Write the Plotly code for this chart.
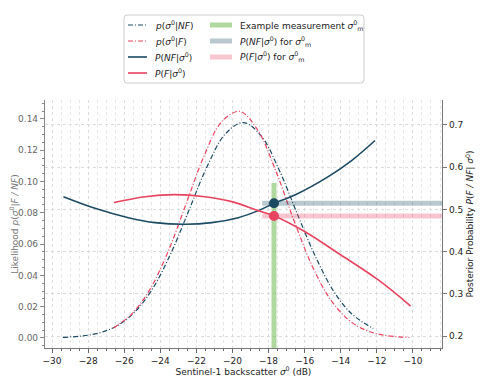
import plotly.graph_objects as go

# Likelihood p(sigma0|NF)
nf_x = [-29.4, -28.4, -27.4, -26.4, -25.4, -24.4, -23.4, -22.4, -21.4, -20.4, -19.4,
        -18.4, -17.4, -16.4, -15.4, -14.4, -13.4, -12.2]
nf_lik = [0.0004, 0.0012, 0.0032, 0.0078, 0.0168, 0.032, 0.0545, 0.082, 0.1098, 0.1304, 0.1377,
          0.129, 0.107, 0.079, 0.052, 0.030, 0.0155, 0.006]
# Likelihood p(sigma0|F)
f_x = [-26.6, -25.6, -24.6, -23.6, -22.6, -21.6, -20.6, -19.6, -18.6, -17.6, -16.6,
       -15.6, -14.6, -13.6, -12.6, -11.6, -10.2]
f_lik = [0.0065, 0.0151, 0.0306, 0.0544, 0.0848, 0.1156, 0.1382, 0.1448, 0.1328, 0.1068, 0.0753,
         0.0464, 0.0251, 0.0119, 0.0049, 0.0018, 0.0003]
# Posterior P(NF|sigma0)
pnf_x = [-29.37, -27.62, -25.77, -24.29, -22.63, -21.15, -19.68, -18.57, -17.68, -16.54, -14.69, -13.40, -12.10]
pnf = [0.530, 0.5026, 0.4803, 0.4685, 0.4647, 0.4685, 0.4803, 0.497, 0.5145, 0.534, 0.5775, 0.6155, 0.663]
# Posterior P(F|sigma0)
pf_x = [-26.57, -24.85, -23.19, -21.52, -20.04, -18.57, -17.68, -15.98, -14.14, -11.92, -10.13]
pf = [0.516, 0.530, 0.5349, 0.530, 0.5183, 0.497, 0.4844, 0.447, 0.396, 0.3327, 0.271]
# Example measurement
sigma_m = -17.7
meas_lik_top = 0.099
pnf_m = 0.5145
pf_m = 0.4844
band_x = [-18.35, -8.0]

# Legend labels (two columns)
legend_col1 = ["<i>p</i>(<i>σ</i><sup>0</sup>|<i>NF</i>)",
               "<i>p</i>(<i>σ</i><sup>0</sup>|<i>F</i>)",
               "<i>P</i>(<i>NF</i>|<i>σ</i><sup>0</sup>)",
               "<i>P</i>(<i>F</i>|<i>σ</i><sup>0</sup>)"]
legend_col2 = ["Example measurement <i>σ</i><sup>0</sup><sub>m</sub>",
               "<i>P</i>(<i>NF</i>|<i>σ</i><sup>0</sup>) for <i>σ</i><sup>0</sup><sub>m</sub>",
               "<i>P</i>(<i>F</i>|<i>σ</i><sup>0</sup>) for <i>σ</i><sup>0</sup><sub>m</sub>"]

BLUE = "#1b4a62"
PINK = "#e8435f"
GREEN_A = "rgba(125,190,95,0.6)"
BLUE_A = "rgba(27,74,98,0.3)"
PINK_A = "rgba(232,67,95,0.3)"
FONT = "DejaVu Sans"
DASHDOT = "5px,2px,1px,2px"

col1_styles = [dict(color=BLUE, width=1.2, dash=DASHDOT), dict(color=PINK, width=1.2, dash=DASHDOT),
               dict(color=BLUE, width=1.6), dict(color=PINK, width=1.6)]
col2_styles = [dict(color=GREEN_A, width=5), dict(color=BLUE_A, width=5), dict(color=PINK_A, width=5)]

fig = go.Figure()

fig.add_trace(go.Scatter(x=nf_x, y=nf_lik, mode="lines", line=dict(color=BLUE, width=1.2, dash=DASHDOT, shape="spline"),
                         name=legend_col1[0]))
fig.add_trace(go.Scatter(x=f_x, y=f_lik, mode="lines", line=dict(color=PINK, width=1.2, dash=DASHDOT, shape="spline"),
                         name=legend_col1[1]))
fig.add_trace(go.Scatter(x=[sigma_m, sigma_m], y=[-0.02, meas_lik_top], mode="lines",
                         line=dict(color=GREEN_A, width=5), name=legend_col2[0]))
fig.add_trace(go.Scatter(x=band_x, y=[pnf_m, pnf_m], yaxis="y2", mode="lines",
                         line=dict(color=BLUE_A, width=5), name=legend_col2[1]))
fig.add_trace(go.Scatter(x=band_x, y=[pf_m, pf_m], yaxis="y2", mode="lines",
                         line=dict(color=PINK_A, width=5), name=legend_col2[2]))
fig.add_trace(go.Scatter(x=pnf_x, y=pnf, yaxis="y2", mode="lines", line=dict(color=BLUE, width=1.6, shape="spline"),
                         name=legend_col1[2]))
fig.add_trace(go.Scatter(x=pf_x, y=pf, yaxis="y2", mode="lines", line=dict(color=PINK, width=1.6, shape="spline"),
                         name=legend_col1[3]))
fig.add_trace(go.Scatter(x=[sigma_m], y=[pnf_m], yaxis="y2", mode="markers",
                         marker=dict(color=BLUE, size=10)))
fig.add_trace(go.Scatter(x=[sigma_m], y=[pf_m], yaxis="y2", mode="markers",
                         marker=dict(color=PINK, size=10)))

# Manual two-column legend (paper coordinates), rounded frame
bx0, bx1, by0, by1 = 0.199, 0.8035, 1.0685, 1.3427
rx, ry = 0.008, 0.013
frame_path = (f"M {bx0+rx},{by1} L {bx1-rx},{by1} Q {bx1},{by1} {bx1},{by1-ry} "
              f"L {bx1},{by0+ry} Q {bx1},{by0} {bx1-rx},{by0} L {bx0+rx},{by0} "
              f"Q {bx0},{by0} {bx0},{by0+ry} L {bx0},{by1-ry} Q {bx0},{by1} {bx0+rx},{by1} Z")
row_y = [1.3024, 1.2379, 1.1734, 1.1089]
shapes = [dict(type="path", xref="paper", yref="paper", path=frame_path,
               line=dict(color="#cccccc", width=1), fillcolor="white", layer="below")]
annotations = []
for i, (lab, st) in enumerate(zip(legend_col1, col1_styles)):
    shapes.append(dict(type="line", xref="paper", yref="paper", x0=0.2091, x1=0.2569, y0=row_y[i], y1=row_y[i], line=st))
    annotations.append(dict(text=lab, xref="paper", yref="paper", x=0.2720, y=row_y[i], xanchor="left",
                            yanchor="middle", showarrow=False, font=dict(size=9, color="#222")))
for i, (lab, st) in enumerate(zip(legend_col2, col2_styles)):
    shapes.append(dict(type="line", xref="paper", yref="paper", x0=0.4156, x1=0.4710, y0=row_y[i], y1=row_y[i], line=st))
    annotations.append(dict(text=lab, xref="paper", yref="paper", x=0.4861, y=row_y[i], xanchor="left",
                            yanchor="middle", showarrow=False, font=dict(size=9, color="#222")))

grid = dict(gridcolor="#dcdcdc", griddash="dot", gridwidth=1)

fig.update_layout(
    width=471, height=369,
    margin=dict(l=37, r=37, t=92, b=29, autoexpand=False),
    paper_bgcolor="white", plot_bgcolor="white",
    font=dict(family=FONT, size=9, color="#222"),
    showlegend=False,
    xaxis=dict(range=[-30.39, -8.39], dtick=2, tick0=0, ticks="outside", ticklen=4, tickcolor="#666",
               showline=True, linecolor="#777", linewidth=1.2, mirror=False, zeroline=False, automargin=False,
               showgrid=True, **grid,
               minor=dict(dtick=0.5, tick0=0, ticks="outside", ticklen=2, tickcolor="#666", showgrid=True,
                          gridcolor="#e6e6e6", griddash="dot", gridwidth=1),
               title=dict(text="Sentinel-1 backscatter <i>σ</i><sup>0</sup> (dB)", standoff=3, font=dict(size=9))),
    yaxis=dict(range=[-0.0064, 0.1521], dtick=0.02, tick0=0, tickformat=".2f", ticks="outside", ticklen=4,
               tickcolor="#888", tickfont=dict(color="#666"), showline=True, linecolor="#888", linewidth=1.2,
               showgrid=False, zeroline=False, automargin=False,
               minor=dict(dtick=0.005, tick0=0, ticks="outside", ticklen=2, tickcolor="#888", showgrid=False),
               title=dict(text="Likelihood <i>p</i>(<i>σ</i><sup>0</sup>|<i>F / NF</i>)", font=dict(color="#777", size=9), standoff=3)),
    yaxis2=dict(range=[0.1716, 0.759], dtick=0.1, tick0=0, tickformat=".1f", overlaying="y", side="right",
                ticks="outside", ticklen=4, tickcolor="#777", showline=True, linecolor="#777", linewidth=1.2,
                showgrid=True, **grid, zeroline=False, automargin=False,
                title=dict(text="Posterior Probability <i>P</i>(<i>F / NF</i>| <i>σ</i><sup>0</sup>)", standoff=4, font=dict(size=9))),
    shapes=shapes,
    annotations=annotations,
)

fig.write_html("out.html")
